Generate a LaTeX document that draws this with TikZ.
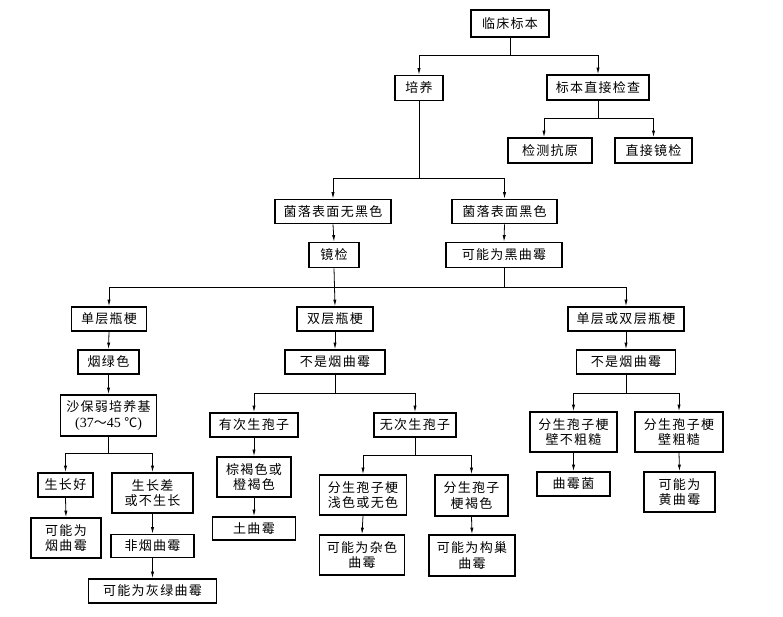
\documentclass[tikz,border=0pt]{standalone}
\usepackage{fontspec}
\setmainfont{Liberation Serif}
\newfontfamily\cjk[LetterSpace=10]{Noto Sans CJK SC}
\newfontfamily\latn{Liberation Serif}
\usetikzlibrary{arrows.meta}
\begin{document}
\begin{tikzpicture}[x=1pt,y=-1pt,
  bx/.style={draw,line width=1.6pt,inner sep=0pt,align=center,
    font=\cjk\fontsize{13}{15.5}\selectfont},
  ln/.style={line width=0.8pt},
  arr/.style={line width=0.8pt,-{Latex[length=6.5pt,width=3.2pt]}}]
\useasboundingbox (0,0) rectangle (783,617);
% row 1
\node[bx,minimum width=78,minimum height=27] (n1) at (510,23.5) {临床标本};
\node[bx,minimum width=48,minimum height=25] (n2) at (419,88) {培养};
\node[bx,minimum width=102,minimum height=25] (n3) at (598,87.5) {标本直接检查};
\node[bx,minimum width=84,minimum height=25] (n4) at (550,150.5) {检测抗原};
\node[bx,minimum width=77,minimum height=25] (n5) at (653.5,150.5) {直接镜检};
\node[bx,minimum width=116,minimum height=24] (n6) at (333,211.5) {菌落表面无黑色};
\node[bx,minimum width=105,minimum height=24] (n7) at (504.5,211.5) {菌落表面黑色};
\node[bx,minimum width=50,minimum height=25] (n8) at (334,255) {镜检};
\node[bx,minimum width=116,minimum height=25] (n9) at (504,255) {可能为黑曲霉};
% row of 瓶梗
\node[bx,minimum width=75,minimum height=24] (n10) at (109,319) {单层瓶梗};
\node[bx,minimum width=76,minimum height=24] (n11) at (335,319) {双层瓶梗};
\node[bx,minimum width=116,minimum height=24] (n12) at (626,319) {单层或双层瓶梗};
\node[bx,minimum width=61,minimum height=24] (n13) at (108.5,362) {烟绿色};
\node[bx,minimum width=100,minimum height=24] (n14) at (335,362) {不是烟曲霉};
\node[bx,minimum width=99,minimum height=24] (n15) at (626,362) {不是烟曲霉};
% left branch
\node[bx,minimum width=96,minimum height=41] (n16) at (108.5,415.5) {沙保弱培养基\\{\latn\fontsize{14}{15.5}\selectfont(37}～{\latn\fontsize{14}{15.5}\selectfont 45 }℃{\latn\fontsize{14}{15.5}\selectfont)}};
\node[bx,minimum width=55,minimum height=24] (n17) at (65.5,485) {生长好};
\node[bx,minimum width=81,minimum height=40] (n18) at (152.5,493) {生长差\\或不生长};
\node[bx,minimum width=70,minimum height=40] (n19) at (66,538) {可能为\\烟曲霉};
\node[bx,minimum width=83,minimum height=23] (n20) at (152.5,546) {非烟曲霉};
\node[bx,minimum width=128,minimum height=24] (n21) at (152.5,591) {可能为灰绿曲霉};
% middle branch
\node[bx,minimum width=88,minimum height=24] (n22) at (254,425) {有次生孢子};
\node[bx,minimum width=82,minimum height=24] (n23) at (415,425) {无次生孢子};
\node[bx,minimum width=74,minimum height=40] (n24) at (254,477) {棕褐色或\\橙褐色};
\node[bx,minimum width=83,minimum height=23] (n25) at (254,528.5) {土曲霉};
\node[bx,minimum width=87,minimum height=40] (n26) at (363,495) {分生孢子梗\\浅色或无色};
\node[bx,minimum width=73,minimum height=41] (n27) at (471.5,495.5) {分生孢子\\梗褐色};
\node[bx,minimum width=85,minimum height=40] (n28) at (362,555) {可能为杂色\\曲霉};
\node[bx,minimum width=86,minimum height=41] (n29) at (472,555.5) {可能为构巢\\曲霉};
% right branch
\node[bx,minimum width=87,minimum height=40] (n30) at (573.5,432) {分生孢子梗\\壁不粗糙};
\node[bx,minimum width=88,minimum height=40] (n31) at (679,432) {分生孢子梗\\壁粗糙};
\node[bx,minimum width=73,minimum height=24] (n32) at (573.5,484) {曲霉菌};
\node[bx,minimum width=71,minimum height=40] (n33) at (679.5,492) {可能为\\黄曲霉};
% junctions
\coordinate (j1) at (510,55);
\coordinate (j2) at (598,118);
\coordinate (j3) at (419,178);
\coordinate (j4) at (504,287);
\coordinate (j5) at (108.5,453);
\coordinate (j6) at (335,393);
\coordinate (j7) at (415,455);
\coordinate (j8) at (626,393);
% connectors
\draw[ln] (n1.south) -- (j1);
\draw[arr] (j1) -| (n2.north);
\draw[arr] (j1) -| (n3.north);
\draw[ln] (n3.south) -- (j2);
\draw[arr] (j2) -| ([xshift=-6pt]n4.north);
\draw[arr] (j2) -| (n5.north);
\draw[ln] (n2.south) -- (j3);
\draw[arr] (j3) -| (n6.north);
\draw[arr] (j3) -| (n7.north);
\draw[arr] (n6.south) -- (n8.north);
\draw[arr] (n7.south) -- (n9.north);
\draw[ln] (n9.south) -- (j4);
\draw[arr] (n8.south) -- (n11.north);
\draw[arr] (j4) -| (n10.north);
\draw[arr] (j4) -| (n12.north);
\draw[arr] (n10.south) -- (n13.north);
\draw[arr] (n13.south) -- (n16.north);
\draw[arr] (n11.south) -- (n14.north);
\draw[arr] (n12.south) -- (n15.north);
\draw[ln] (n16.south) -- (j5);
\draw[arr] (j5) -| (n17.north);
\draw[arr] (j5) -| (n18.north);
\draw[arr] (n17.south) -- (n19.north);
\draw[arr] (n18.south) -- (n20.north);
\draw[arr] (n20.south) -- (n21.north);
\draw[ln] (n14.south) -- (j6);
\draw[arr] (j6) -| (n22.north);
\draw[arr] (j6) -| (n23.north);
\draw[arr] (n22.south) -- (n24.north);
\draw[arr] (n24.south) -- (n25.north);
\draw[ln] (n23.south) -- (j7);
\draw[arr] (j7) -| (n26.north);
\draw[arr] (j7) -| (n27.north);
\draw[arr] (n26.south) -- (n28.north);
\draw[arr] (n27.south) -- (n29.north);
\draw[ln] (n15.south) -- (j8);
\draw[arr] (j8) -| (n30.north);
\draw[arr] (j8) -| (n31.north);
\draw[arr] (n30.south) -- (n32.north);
\draw[arr] (n31.south) -- (n33.north);
\end{tikzpicture}
\end{document}
